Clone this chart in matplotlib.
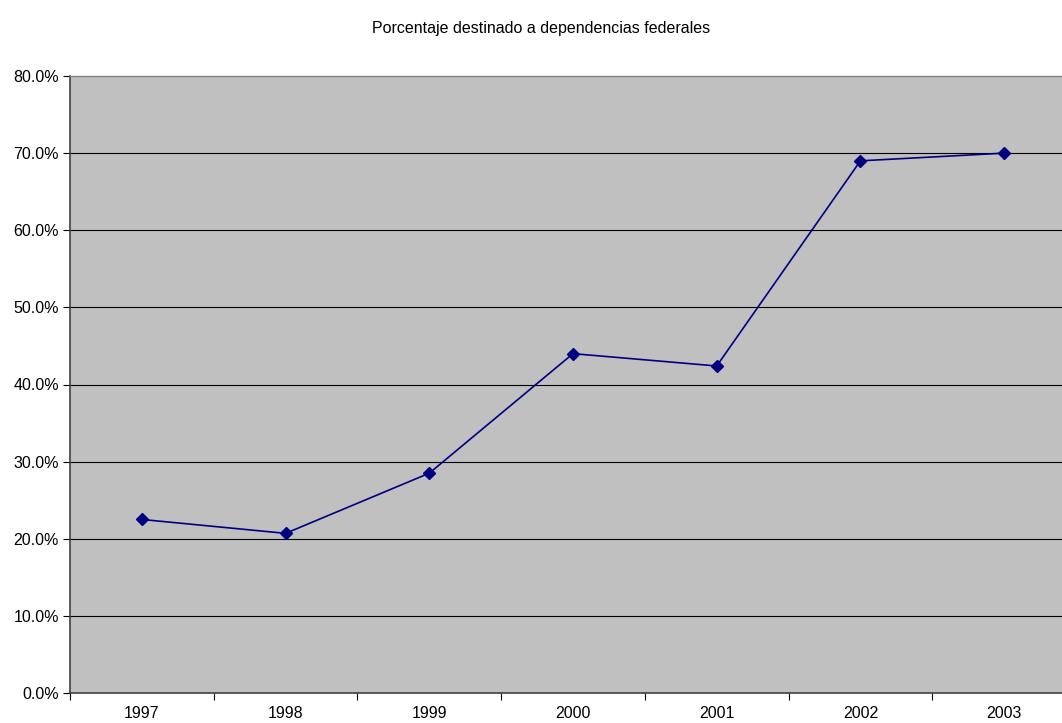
import matplotlib
matplotlib.use("Agg")
import matplotlib.pyplot as plt
from matplotlib.ticker import FixedLocator, FuncFormatter

years = ["1997", "1998", "1999", "2000", "2001", "2002", "2003"]
values = [22.5, 20.7, 28.5, 44.0, 42.4, 69.0, 70.0]
yticks = [0, 10, 20, 30, 40, 50, 60, 70, 80]
title = "Porcentaje destinado a dependencias federales"

plt.rcParams['font.family'] = ['Liberation Sans', 'DejaVu Sans']

fig = plt.figure(figsize=(10.62, 7.23), dpi=100)
W, H = 1062, 723
left, right, top, bottom = 70, 1076, 76, 693
ax = fig.add_axes([left / W, 1 - bottom / H, (right - left) / W, (bottom - top) / H])
ax.set_facecolor("#C0C0C0")

x = list(range(len(years)))
ax.plot(x, values, color="#000080", linewidth=1.2, marker="D", markersize=6,
        markerfacecolor="#000080", markeredgecolor="#000080")

ax.set_xlim(-0.5, len(years) - 0.5)
ax.set_ylim(0, 80)
ax.set_yticks(yticks)
ax.yaxis.set_major_formatter(FuncFormatter(lambda v, p: f"{v:.1f}%"))
for yv in yticks[1:-1]:
    ax.axhline(yv, color="black", linewidth=0.8, zorder=0.5)

ax.xaxis.set_major_locator(FixedLocator([i - 0.5 for i in range(len(years) + 1)]))
ax.xaxis.set_minor_locator(FixedLocator(x))
ax.set_xticklabels([])
ax.set_xticklabels(years, minor=True)
ax.tick_params(axis="x", which="major", length=5, width=0.8, color="black", direction="out")
ax.tick_params(axis="x", which="minor", length=0, pad=9, labelsize=11.5)
ax.tick_params(axis="y", length=5, width=0.8, direction="out", labelsize=11.5, pad=3)

ax.spines["right"].set_visible(False)
ax.spines["top"].set_color("#808080")
ax.spines["top"].set_linewidth(1.0)
for s in ["left", "bottom"]:
    ax.spines[s].set_color("#404040")
    ax.spines[s].set_linewidth(1.2)

fig.text(541 / W, 1 - 28 / H, title, ha="center", va="center", fontsize=11.5)

fig.savefig("out.png", dpi=100, facecolor="white")
